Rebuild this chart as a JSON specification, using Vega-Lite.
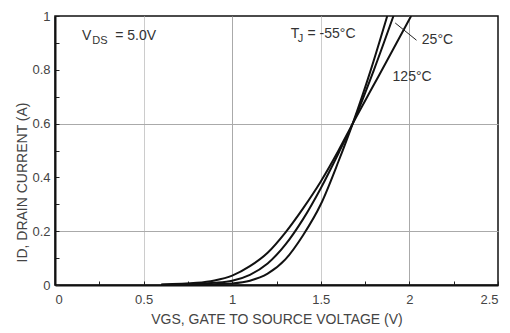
{
  "$schema": "https://vega.github.io/schema/vega-lite/v6.json",
  "width": 443,
  "height": 269,
  "autosize": {"type": "none"},
  "padding": {"left": 55, "top": 16, "right": 12, "bottom": 48},
  "background": "white",
  "config": {
    "view": {"stroke": "#111", "strokeWidth": 1.5},
    "font": "Liberation Sans",
    "axis": {
      "domainColor": "#111",
      "domainWidth": 2,
      "tickColor": "#222",
      "tickSize": -4,
      "tickWidth": 1,
      "labelColor": "#444",
      "labelFontSize": 13,
      "labelFont": "Liberation Sans",
      "titleFont": "Liberation Sans",
      "titleColor": "#444",
      "titleFontSize": 14,
      "titleFontWeight": "normal"
    }
  },
  "encoding": {
    "x": {
      "field": "V",
      "type": "quantitative",
      "scale": {"domain": [0, 2.5], "nice": false, "zero": false},
      "axis": {
        "title": "VGS, GATE TO SOURCE VOLTAGE (V)",
        "values": [0, 0.25, 0.5, 0.75, 1, 1.25, 1.5, 1.75, 2, 2.25, 2.5],
        "labelExpr": "datum.value * 2 == round(datum.value * 2) ? format(datum.value, '~g') : ''",
        "labelPadding": 12,
        "titlePadding": 6,
        "grid": true,
        "gridColor": {"condition": {"test": "datum.value == 1 || datum.value == 2", "value": "#aaaaaa"}, "value": "#cccccc"},
        "gridOpacity": {"condition": {"test": "datum.value == 0.5 || datum.value == 1 || datum.value == 1.5 || datum.value == 2", "value": 1}, "value": 0},
        "gridWidth": 1
      }
    },
    "y": {
      "field": "I",
      "type": "quantitative",
      "scale": {"domain": [0, 1], "nice": false, "zero": false},
      "axis": {
        "title": "ID, DRAIN CURRENT (A)",
        "values": [0, 0.1, 0.2, 0.3, 0.4, 0.5, 0.6, 0.7, 0.8, 0.9, 1],
        "labelExpr": "round(datum.value * 10) % 2 == 0 ? format(datum.value, '~g') : ''",
        "labelPadding": 9,
        "titlePadding": 2,
        "titleY": 166,
        "grid": true,
        "gridColor": "#aaaaaa",
        "gridOpacity": {"condition": {"test": "abs(datum.value - 0.2) < 0.001 || abs(datum.value - 0.6) < 0.001", "value": 1}, "value": 0},
        "gridWidth": 1
      }
    }
  },
  "layer": [
    {
      "data": {
        "values": [
          {"T": "125", "V": 0.6, "I": 0.002},
          {"T": "125", "V": 0.8, "I": 0.008},
          {"T": "125", "V": 0.9, "I": 0.017},
          {"T": "125", "V": 1.0, "I": 0.035},
          {"T": "125", "V": 1.1, "I": 0.07},
          {"T": "125", "V": 1.2, "I": 0.12},
          {"T": "125", "V": 1.3, "I": 0.195},
          {"T": "125", "V": 1.4, "I": 0.285},
          {"T": "125", "V": 1.5, "I": 0.385},
          {"T": "125", "V": 1.6, "I": 0.5},
          {"T": "125", "V": 1.68, "I": 0.6},
          {"T": "125", "V": 1.8, "I": 0.745},
          {"T": "125", "V": 1.9, "I": 0.866},
          {"T": "125", "V": 2.01, "I": 1.0},
          {"T": "25", "V": 0.6, "I": 0.001},
          {"T": "25", "V": 0.8, "I": 0.004},
          {"T": "25", "V": 0.9, "I": 0.008},
          {"T": "25", "V": 1.0, "I": 0.016},
          {"T": "25", "V": 1.1, "I": 0.038},
          {"T": "25", "V": 1.2, "I": 0.08},
          {"T": "25", "V": 1.3, "I": 0.15},
          {"T": "25", "V": 1.4, "I": 0.245},
          {"T": "25", "V": 1.5, "I": 0.36},
          {"T": "25", "V": 1.6, "I": 0.49},
          {"T": "25", "V": 1.68, "I": 0.6},
          {"T": "25", "V": 1.8, "I": 0.8},
          {"T": "25", "V": 1.91, "I": 1.0},
          {"T": "-55", "V": 0.6, "I": 0.0},
          {"T": "-55", "V": 0.8, "I": 0.002},
          {"T": "-55", "V": 0.9, "I": 0.003},
          {"T": "-55", "V": 1.0, "I": 0.006},
          {"T": "-55", "V": 1.1, "I": 0.016},
          {"T": "-55", "V": 1.2, "I": 0.042},
          {"T": "-55", "V": 1.3, "I": 0.095},
          {"T": "-55", "V": 1.4, "I": 0.185},
          {"T": "-55", "V": 1.5, "I": 0.3},
          {"T": "-55", "V": 1.6, "I": 0.46},
          {"T": "-55", "V": 1.68, "I": 0.6},
          {"T": "-55", "V": 1.78, "I": 0.795},
          {"T": "-55", "V": 1.875, "I": 1.0}
        ]
      },
      "mark": {"type": "line", "color": "#111", "strokeWidth": 2, "interpolate": "monotone", "clip": true},
      "encoding": {"detail": {"field": "T"}}
    },
    {
      "data": {
        "values": [
          {"V": 1.92, "I": 0.974, "V2": 2.04, "I2": 0.91}
        ]
      },
      "mark": {"type": "rule", "color": "#222", "strokeWidth": 1},
      "encoding": {"x2": {"field": "V2"}, "y2": {"field": "I2"}}
    },
    {
      "data": {
        "values": [
          {"label": "V", "V": 0.153, "I": 0.91},
          {"label": "= 5.0V", "V": 0.34, "I": 0.91},
          {"label": "T", "V": 1.33, "I": 0.92},
          {"label": "= -55°C", "V": 1.425, "I": 0.92},
          {"label": "25°C", "V": 2.07, "I": 0.895},
          {"label": "125°C", "V": 1.905, "I": 0.76}
        ]
      },
      "mark": {"type": "text", "align": "left", "baseline": "alphabetic", "fontSize": 14, "color": "#333", "font": "Liberation Sans"},
      "encoding": {"text": {"field": "label"}}
    },
    {
      "data": {
        "values": [
          {"label": "DS", "V": 0.21, "I": 0.91},
          {"label": "J", "V": 1.37, "I": 0.92}
        ]
      },
      "mark": {"type": "text", "align": "left", "baseline": "alphabetic", "fontSize": 11, "dy": 4, "color": "#333", "font": "Liberation Sans"},
      "encoding": {"text": {"field": "label"}}
    }
  ]
}
